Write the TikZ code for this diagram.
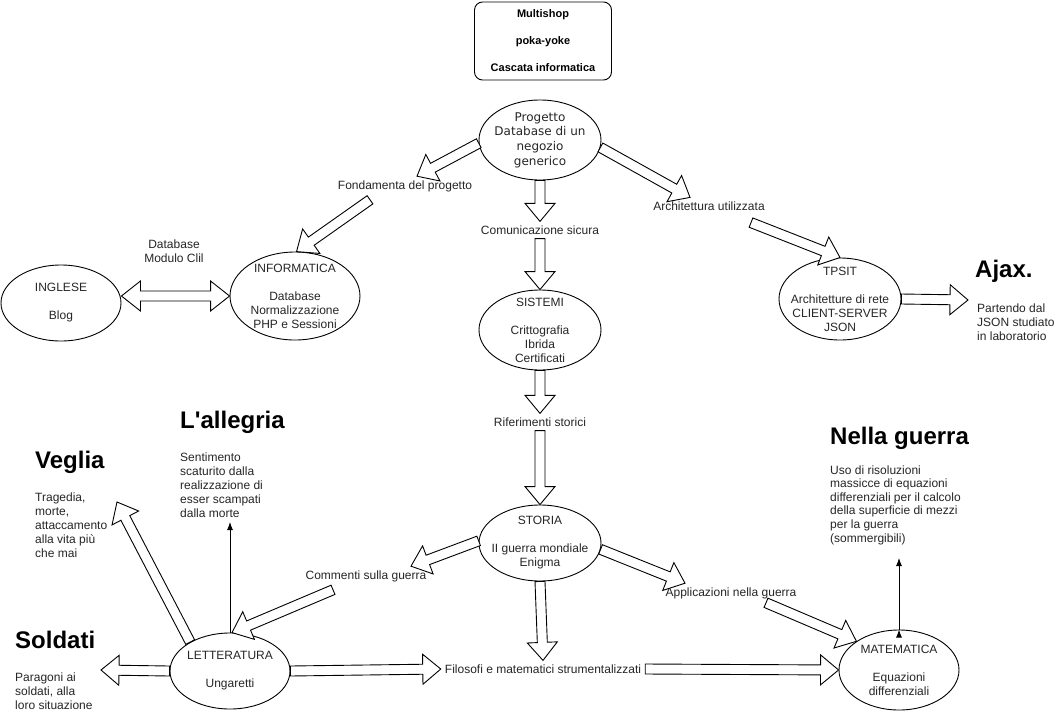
\documentclass[tikz,border=0pt]{standalone}
\usepackage{fontspec}
\setmainfont{Liberation Sans}
\newfontfamily\dejavu{DejaVu Sans}
\usetikzlibrary{arrows.meta,calc,shapes.geometric}

% block arrow from #1 to #2
\newcommand{\flexarrow}[2]{%
  \path #1 coordinate (fa-a) #2 coordinate (fa-b);
  \path ($(fa-b)!18pt!(fa-a)$) coordinate (fa-c);
  \draw[blockarrow] ($(fa-a)!5pt!90:(fa-b)$) -- ($(fa-c)!5pt!-90:(fa-a)$) -- ($(fa-c)!15pt!-90:(fa-a)$) -- (fa-b)
     -- ($(fa-c)!15pt!90:(fa-a)$) -- ($(fa-c)!5pt!90:(fa-a)$) -- ($(fa-a)!5pt!-90:(fa-b)$) -- cycle;}
% block arrow with two heads
\newcommand{\dflexarrow}[2]{%
  \path #1 coordinate (fa-a) #2 coordinate (fa-b);
  \path ($(fa-b)!19pt!(fa-a)$) coordinate (fa-c) ($(fa-a)!19pt!(fa-b)$) coordinate (fa-d);
  \draw[blockarrow] (fa-a) -- ($(fa-d)!15pt!90:(fa-b)$) -- ($(fa-d)!5pt!90:(fa-b)$) -- ($(fa-c)!5pt!-90:(fa-a)$)
     -- ($(fa-c)!15pt!-90:(fa-a)$) -- (fa-b) -- ($(fa-c)!15pt!90:(fa-a)$) -- ($(fa-c)!5pt!90:(fa-a)$)
     -- ($(fa-d)!5pt!-90:(fa-b)$) -- ($(fa-d)!15pt!-90:(fa-b)$) -- cycle;}

\begin{document}
\begin{tikzpicture}[>={Latex[length=8pt,width=6pt]}, x=1pt, y=-1pt]
    \tikzset{ell/.style={draw, ellipse, line width=0.9pt, inner sep=-25pt, align=center, text=black!85, font=\fontsize{12}{14}\selectfont},
    box/.style={draw, rectangle, rounded corners=8pt, line width=0.9pt, align=center, minimum width=137pt, minimum height=78pt, font=\fontsize{11}{14}\selectfont\bfseries},
    lbl/.style={inner sep=4pt, text=black!85, font=\fontsize{12}{14}\selectfont},
    head/.style={anchor=base west, inner sep=0pt, font=\fontsize{24}{28}\selectfont\bfseries},
    body/.style={anchor=base west, inner sep=0pt, align=left, text=black!85, font=\fontsize{12}{14}\selectfont},
    blockarrow/.style={draw, fill=white, line width=0.9pt, line join=miter},
    }
    \fill[white] (0,0) rectangle (1061,721);
    \useasboundingbox (0,0) rectangle (1061,721);

    \node [box] (multishop) at (543,41) {Multishop\\[13pt]poka-yoke\\[13pt]Cascata informatica};
    \node [ell, minimum width=122pt, minimum height=80pt, font=\dejavu\fontsize{12}{14.7}\selectfont] (progetto) at (540,140) {Progetto\\Database di un\\negozio\\generico};
    \node [ell, minimum width=130pt, minimum height=88pt] (informatica) at (295,296) {INFORMATICA\\[14pt]Database\\Normalizzazione\\PHP e Sessioni};
    \node [ell, minimum width=120pt, minimum height=76pt] (inglese) at (61,303) {INGLESE\\[14pt]Blog};
    \node [ell, minimum width=122pt, minimum height=80pt] (sistemi) at (540,330) {SISTEMI\\[14pt]Crittografia\\Ibrida\\Certificati};
    \node [ell, minimum width=122pt, minimum height=76pt] (storia) at (540,543) {STORIA\\[14pt]II guerra mondiale\\Enigma};
    \node [ell, minimum width=122pt, minimum height=82pt] (tpsit) at (840,299) {TPSIT\\[14pt]Architetture di rete\\CLIENT-SERVER\\JSON};
    \node [ell, minimum width=120pt, minimum height=76pt] (letteratura) at (230,671) {LETTERATURA\\[14pt]Ungaretti};
    \node [ell, minimum width=120pt, minimum height=80pt] (matematica) at (899,670) {MATEMATICA\\[14pt]Equazioni\\differenziali};

    \node [lbl] (fond) at (405,186) {Fondamenta del progetto};
    \node [lbl] (comm) at (540,230) {Comunicazione sicura};
    \node [lbl] (archi) at (709,206) {Architettura utilizzata};
    \node [lbl] (rifer) at (540,422) {Riferimenti storici};
    \node [lbl] (commenti) at (366,576) {Commenti sulla guerra};
    \node [lbl] (applic) at (731,593) {Applicazioni nella guerra};
    \node [lbl] (filos) at (543,669) {Filosofi e matematici strumentalizzati};
    \node [lbl, align=center] (clil) at (174,251) {Database\\Modulo Clil};

    \node [head] (ajax) at (975,277) {Ajax.};
    \node [head] (allegria) at (180,428) {L\textquotesingle allegria};
    \node [head] (veglia) at (35,468) {Veglia};
    \node [head] (soldati) at (15,648) {Soldati};
    \node [head] (nella) at (830,444) {Nella guerra};
    \node [body] (ajaxtxt) at (977,340) {Partendo dal\\JSON studiato\\in laboratorio};
    \node [body] (allegriatxt) at (180,517) {Sentimento\\scaturito dalla\\realizzazione di\\esser scampati\\dalla morte};
    \node [body] (vegliatxt) at (35,557) {Tragedia,\\morte,\\attaccamento\\alla vita più\\che mai};
    \node [body] (soldatitxt) at (15,709) {Paragoni ai\\soldati, alla\\loro situazione};
    \node [body, font=\fontsize{12}{13.6}\selectfont] (nellatxt) at (830,542) {Uso di risoluzioni\\massicce di equazioni\\differenziali per il calcolo\\della superficie di mezzi\\per la guerra\\(sommergibili)};

    \coordinate (soldatitip) at (101,670);
    \coordinate (vegliatip) at (117,502);
    \coordinate (allegriatip) at (230,522);
    \coordinate (ajaxtip) at (968,300);
    \coordinate (nellatip) at (899,558);

% paths
    \flexarrow{(progetto.183)}{([xshift=12pt]fond.north)}
    \flexarrow{([xshift=-35pt,yshift=-4pt]fond.south)}{(informatica.88)}
    \flexarrow{(progetto.-7)}{([xshift=-19pt]archi.north)}
    \flexarrow{([xshift=42pt,yshift=-8pt]archi.south)}{(tpsit.north)}
    \flexarrow{(progetto.south)}{(comm.north)}
    \flexarrow{(comm.south)}{(sistemi.north)}
    \flexarrow{(sistemi.south)}{(rifer.north)}
    \flexarrow{(rifer.south)}{(storia.north)}
    \flexarrow{(storia.south)}{(filos.north)}
    \flexarrow{(storia.178)}{([xshift=45pt]commenti.north)}
    \flexarrow{([xshift=-33pt,yshift=-4pt]commenti.south)}{(letteratura.87)}
    \flexarrow{(storia.-6)}{([xshift=-46pt]applic.north)}
    \flexarrow{([xshift=35pt]applic.south)}{(matematica.146)}
    \flexarrow{(letteratura.east)}{(filos.west)}
    \flexarrow{(filos.east)}{(matematica.west)}
    \flexarrow{(letteratura.west)}{(soldatitip)}
    \flexarrow{(letteratura.144)}{(vegliatip)}
    \flexarrow{(tpsit.east)}{(ajaxtip)}
    \dflexarrow{(inglese.east |- informatica.west)}{(informatica.west)}
    \path[draw,->, line width=0.9pt]
                (letteratura.north) edge (allegriatip)
                (matematica.north) edge (nellatip)
                ;
\end{tikzpicture}
\end{document}
